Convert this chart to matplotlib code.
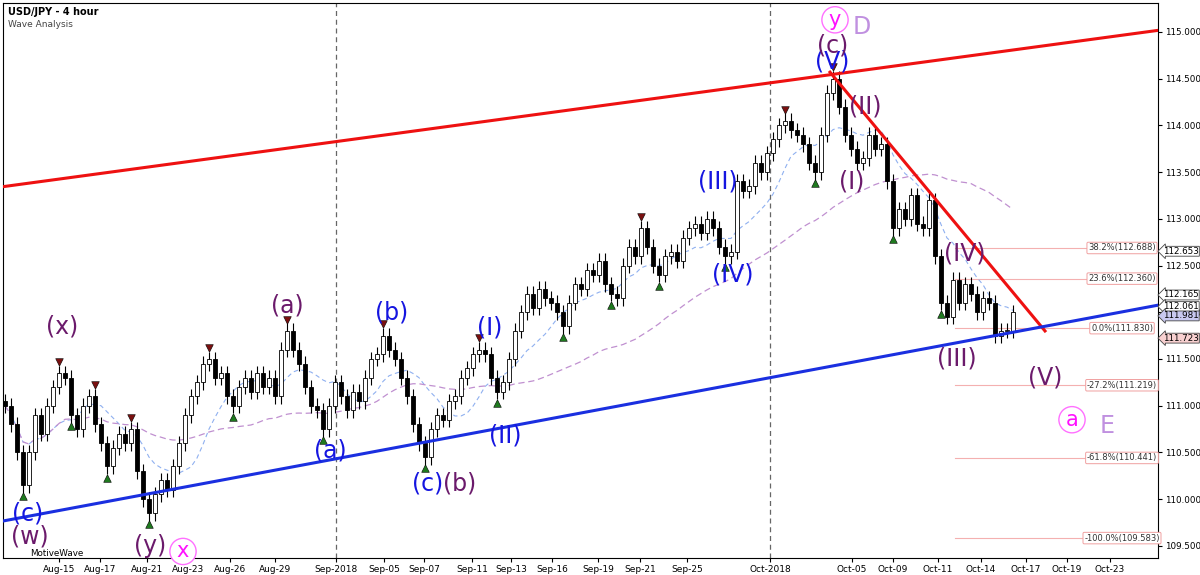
import matplotlib
matplotlib.use("Agg")
import matplotlib.pyplot as plt
import numpy as np
import pandas as pd

closes = [111.0,110.8,110.5,110.15, 110.5,110.9,110.7,111.0,111.2,111.35,111.3,
 110.9,110.75,111.0, 111.1,110.8,110.6,110.35, 110.55,110.7,110.6,110.75,
 110.3,110.0,109.85, 110.05,110.2,110.1,110.35, 110.6,110.9,111.1,111.25,
 111.45,111.5,111.3,111.35, 111.1,111.0,111.2,111.3, 111.15,111.35,111.2,111.3,
 111.1,111.6,111.8, 111.6,111.45,111.2,111.0, 110.95,110.75,111.0,
 111.25,111.1,110.95,111.15, 111.05,111.3,111.5,111.55,111.75,
 111.6,111.5,111.3,111.1, 110.8,110.6,110.45, 110.75,110.9,110.85,111.05,
 111.1,111.3,111.4,111.55, 111.6,111.55,111.3,111.15, 111.25,111.5,111.8,112.0,
 112.2,112.05,112.25,112.15, 112.1,112.0,111.85,112.1, 112.3,112.25,112.45,112.4,
 112.55,112.3,112.2,112.15, 112.5,112.7,112.6,112.9, 112.7,112.5,112.4,112.6,
 112.65,112.55,112.8,112.9, 112.95,112.85,113.0,112.9, 112.7,112.6,112.65,
 113.4,113.3,113.35,113.6, 113.5,113.7,113.85,114.0, 114.05,113.95,113.9,
 113.8,113.6,113.5, 113.9,114.35,114.5, 114.2,113.9,113.75,113.6,
 113.65,113.9,113.75,113.8, 113.4,112.9,113.1,113.0, 113.25,112.95,112.9,113.2,
 112.6,112.1,111.95,112.35, 112.1,112.3,112.2,112.0, 112.15,112.1,111.75,111.8,
 111.8,112.0]
bar_x0, bar_dx = 5, 6

swing_lows = [3,11,17,24,38,53,70,82,93,101,109,120,135,148,156]
swing_highs = [9,15,21,34,47,63,79,106,130,138]

date_labels = ["Aug-15","Aug-17","Aug-21","Aug-23","Aug-26","Aug-29","Sep-2018","Sep-05","Sep-07",
               "Sep-11","Sep-13","Sep-16","Sep-19","Sep-21","Sep-25","Oct-2018","Oct-05","Oct-09",
               "Oct-11","Oct-14","Oct-17","Oct-19","Oct-23"]
date_pos = [59,100,147,188,230,275,336,384,424,472,511,552,598,640,687,770,852,893,938,981,1026,1067,1110]

fib_labels = ["38.2%(112.688)","23.6%(112.360)","0.0%(111.830)","-27.2%(111.219)","-61.8%(110.441)","-100.0%(109.583)"]
fib_values = [112.688,112.360,111.830,111.219,110.441,109.583]

price_boxes = [112.653,112.165,112.061,111.981,111.723]

upper_red = [(0,113.34),(1160,115.02)]
down_red = [(830,114.57),(1045,111.80)]
blue_line = [(0,109.76),(1160,112.08)]

waves = [
 ("(x)",62,111.85,"#6b1a6b",17),("(c)",28,109.85,"#1515e0",17),("(w)",30,109.6,"#6b1a6b",17),
 ("(y)",150,109.5,"#6b1a6b",17),("(a)",287,112.07,"#6b1a6b",17),("(a)",330,110.52,"#1515e0",17),
 ("(b)",392,112.0,"#1515e0",17),("(c)",428,110.17,"#1515e0",17),("(b)",460,110.17,"#6b1a6b",17),
 ("(I)",490,111.84,"#1515e0",17),("(II)",505,110.68,"#1515e0",17),("(III)",718,113.4,"#1515e0",17),
 ("(IV)",733,112.4,"#1515e0",17),("(V)",832,114.68,"#1515e0",17),("(c)",833,114.85,"#6b1a6b",17),
 ("(II)",865,114.2,"#6b1a6b",17),("(I)",852,113.4,"#6b1a6b",17),("(IV)",965,112.63,"#6b1a6b",17),
 ("(III)",957,111.5,"#6b1a6b",17),("(V)",1045,111.3,"#6b1a6b",17)]
circled = [("x",183,109.44),("y",835,115.13),("a",1072,110.85)]
letters = [("D",862,115.05),("E",1107,110.78)]

W,H = 1200,575
fig = plt.figure(figsize=(12,5.75), dpi=100)
fig.patch.set_facecolor("white")
ax = fig.add_axes([3/W, 17/H, 1155/W, 555/H])
ax.set_xlim(3,1158)
ax.set_ylim(109.37,115.31)

n = len(closes)
xs = bar_x0 + bar_dx*np.arange(n)
opens = [closes[0]+0.05] + closes[:-1]
highs, lows = [], []
for i in range(n):
    o,c = opens[i], closes[i]
    hi = max(o,c)+0.08; lo = min(o,c)-0.08
    highs.append(hi); lows.append(lo)
    ax.vlines(xs[i], lo, hi, color="black", lw=0.8, zorder=3)
    ax.bar(xs[i], max(abs(c-o),0.01), bottom=min(o,c), width=3.5,
           color="white" if c>=o else "black", edgecolor="black", lw=0.6, zorder=4)
ax.scatter([xs[i] for i in swing_lows], [lows[i]-0.04 for i in swing_lows], marker="^", s=30,
           color="#1f7a1f", edgecolor="black", lw=0.4, zorder=5)
ax.scatter([xs[i] for i in swing_highs], [highs[i]+0.04 for i in swing_highs], marker="v", s=30,
           color="#7a1010", edgecolor="black", lw=0.4, zorder=5)

s = pd.Series(closes)
ax.plot(xs, s.rolling(10,min_periods=1).mean(), color="#8fb0f0", lw=0.8, ls=(0,(4,3)), zorder=2)
ax.plot(xs, s.rolling(40,min_periods=1).mean(), color="#c090d0", lw=0.9, ls=(0,(5,3)), zorder=2)

for xv in [336,770]:
    ax.axvline(xv, color="#666666", lw=0.9, ls=(0,(4,3)), zorder=1)

for ln,col in [(upper_red,"#ee1111"),(down_red,"#ee1111"),(blue_line,"#1a2fe0")]:
    ax.plot([p[0] for p in ln],[p[1] for p in ln], color=col, lw=2.2, zorder=6)

for lab,v in zip(fib_labels,fib_values):
    ax.plot([955,1143],[v,v], color="#f4b0b0", lw=0.8, zorder=1)
    ax.text(1122, v, lab, fontsize=6.0, ha="center", va="center", color="#333333", zorder=7,
            bbox=dict(boxstyle="round,pad=0.15", fc="white", ec="#f0a0a0", lw=0.7))

for t,x,p,c,sz in waves:
    ax.text(x,p,t,color=c,fontsize=sz,ha="center",va="center",zorder=8)
for t,x,p in circled:
    ax.text(x,p,t,color="#ff10ff",fontsize=15,ha="center",va="center",zorder=8,
            bbox=dict(boxstyle="circle,pad=0.15", fc="white", ec="#ff70ff", lw=1))
for t,x,p in letters:
    ax.text(x,p,t,color="#c090e0",fontsize=17,ha="center",va="center",zorder=8)

ax.text(8, 115.21, "USD/JPY - 4 hour", fontsize=7, fontweight="bold", va="center")
ax.text(8, 115.08, "Wave Analysis", fontsize=6.5, color="#444444", va="center")
ax.text(30, 109.42, "MotiveWave", fontsize=6.3, va="center")

ax.yaxis.tick_right()
ticks = np.arange(109.5,115.01,0.5)
ax.set_yticks(ticks)
ax.set_yticklabels([f"{t:.3f}" for t in ticks], fontsize=6.3)
ax.set_xticks(date_pos)
ax.set_xticklabels(date_labels, fontsize=6.5)
ax.tick_params(length=3, pad=2)
offs = [0, 0.02, 0, -0.02, 0]
for i,v in enumerate(price_boxes):
    fc = "#c8c8f0" if i==3 else ("#f8d0d0" if i==4 else "white")
    ax.text(1163, v+offs[i], f"{v:.3f}", fontsize=6.3, va="center", ha="left", clip_on=False, zorder=9+i,
            bbox=dict(boxstyle="larrow,pad=0.05", fc=fc, ec="#444444", lw=0.6))
fig.savefig("out.png", dpi=100)
